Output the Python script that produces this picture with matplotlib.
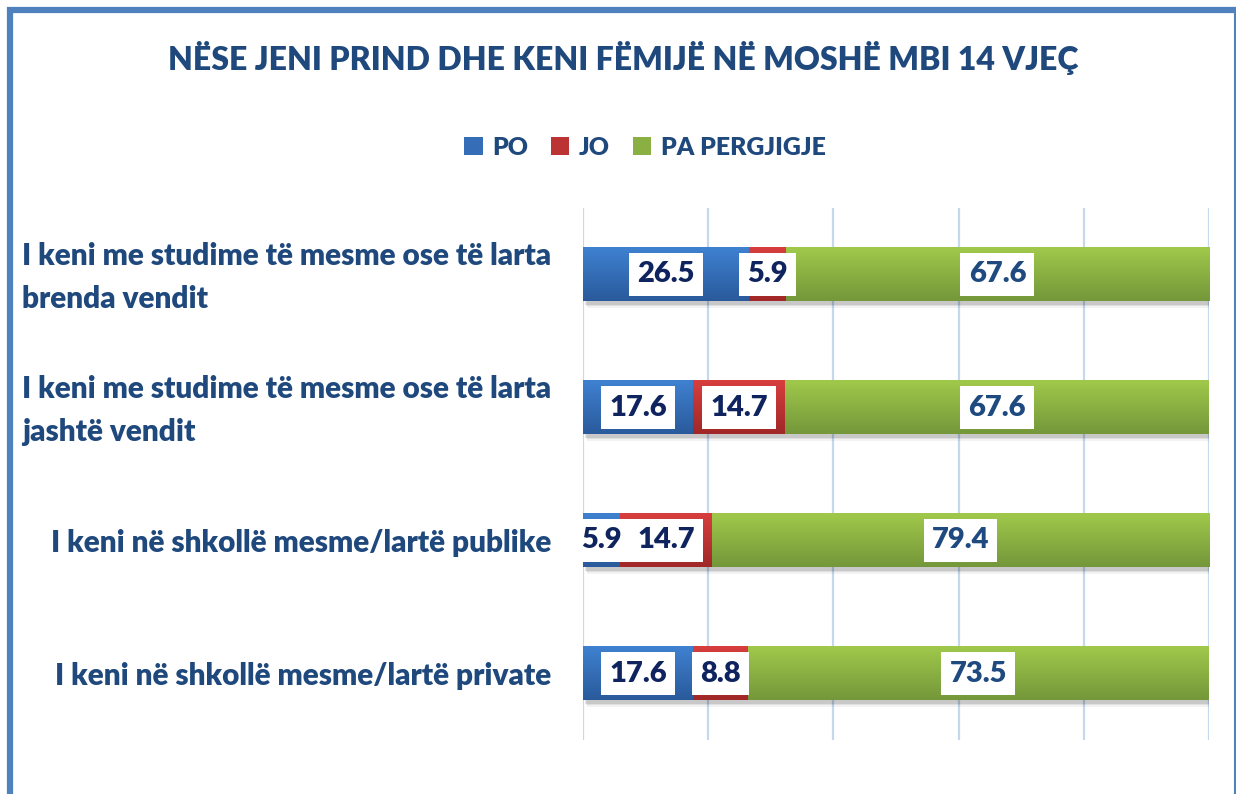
#Stacked horizontal bars: parents with children under 14
#gradient fill per segment, white value boxes, blue frame

import numpy as np
import matplotlib
matplotlib.use('Agg')
import matplotlib.pyplot as plt
from matplotlib.patches import Rectangle, Patch
from matplotlib.colors import to_rgb

plt.rcParams['font.family'] = ['Lato', 'DejaVu Sans']
WEIGHT = 'heavy'

title = "NËSE JENI PRIND DHE KENI FËMIJË NË MOSHË MBI 14 VJEÇ"
categories = ["I keni me studime të mesme ose të larta\nbrenda vendit",
              "I keni me studime të mesme ose të larta\njashtë vendit",
              "I keni në shkollë mesme/lartë publike",
              "I keni në shkollë mesme/lartë private"]
series = ["PO", "JO", "PA PERGJIGJE"]
po = [26.5, 17.6, 5.9, 17.6]
jo = [5.9, 14.7, 14.7, 8.8]
pa = [67.6, 67.6, 79.4, 73.5]

#top / bottom colours of each gradient
grads = [("#3f81d1", "#2a5a9b"),
         ("#d83e3e", "#a02828"),
         ("#a0c94b", "#74973a")]
label_cols = ["#0f245e", "#0f245e", "#1f4a80"]
navy = "#1f497d"

W, H = 1236, 794
fig = plt.figure(figsize=(W / 100, H / 100), dpi=100)
ax = fig.add_axes([583 / W, 54 / H, 626 / W, 532 / H])

ypos = np.arange(len(categories))[::-1]
bh = 0.4

def gradient(c1, c2, n=64):
    a = np.array(to_rgb(c1))
    b = np.array(to_rgb(c2))
    t = np.linspace(0, 1, n)[:, None]
    return (a * (1 - t) + b * t)[:, None, :]

values = [po, jo, pa]
for i, y in enumerate(ypos):
    total = sum(v[i] for v in values)
    # soft drop shadow
    for k, al in enumerate([0.10, 0.08, 0.05]):
        off = 0.012 * (k + 1)
        ax.add_patch(Rectangle((0.3 + k * 0.15, y - bh / 2 - off - 0.015), total,
                               bh, color="#000000", alpha=al, lw=0, zorder=1))
    left = 0
    for s, vals in enumerate(values):
        w = vals[i]
        ax.imshow(gradient(*grads[s]), extent=(left, left + w, y - bh / 2, y + bh / 2),
                  origin='upper', aspect='auto', zorder=2, interpolation='bilinear')
        ax.text(left + w / 2, y, f"{w:.1f}", ha='center', va='center',
                fontsize=21, fontweight=WEIGHT, color=label_cols[s], zorder=5,
                bbox=dict(boxstyle='square,pad=0.28', fc='white', ec='none'))
        left += w

    #category label, block right aligned, lines left aligned
    ax.text(-32 / 626, y - 0.022, categories[i], transform=ax.get_yaxis_transform(),
            ha='right', va='center', multialignment='left', fontsize=21.45,
            fontweight=WEIGHT, color=navy, linespacing=1.68)

ax.set_xlim(0, 100)
ax.set_ylim(-0.5, len(categories) - 0.5)
ax.set_xticks(np.arange(0, 101, 20))
ax.xaxis.grid(True, color="#c5d8ee", lw=1.6, zorder=0)
ax.set_axisbelow(True)
ax.tick_params(axis='x', length=0, labelbottom=False)
ax.set_yticks([])
for sp in ax.spines.values():
    sp.set_visible(False)

fig.text(623 / W, 1 - 58 / H, title, ha='center', va='center', fontsize=23,
         fontweight=WEIGHT, color=navy)

handles = [Patch(facecolor=np.mean([to_rgb(c) for c in g], axis=0), edgecolor='none')
           for g in grads]
fig.legend(handles, series, loc='center', bbox_to_anchor=(645 / W, 1 - 148 / H),
           ncol=3, frameon=False, handlelength=0.75, handleheight=0.75,
           handletextpad=0.4, columnspacing=0.9, labelcolor=navy,
           prop={'weight': WEIGHT, 'size': 17.8})

# blue frame around the chart area
fig.add_artist(plt.Line2D([9.5 / W, 9.5 / W], [0, 1 - 7 / H], color="#4f81bd", lw=4.5,
                          transform=fig.transFigure, solid_capstyle='butt'))
fig.add_artist(plt.Line2D([7 / W, 1], [1 - 9.5 / H, 1 - 9.5 / H], color="#4f81bd", lw=4.5,
                          transform=fig.transFigure, solid_capstyle='butt'))
fig.add_artist(plt.Line2D([1235 / W, 1235 / W], [0, 1 - 9 / H], color="#4f81bd", lw=1.5,
                          transform=fig.transFigure))

fig.savefig("out.png", dpi=100)
